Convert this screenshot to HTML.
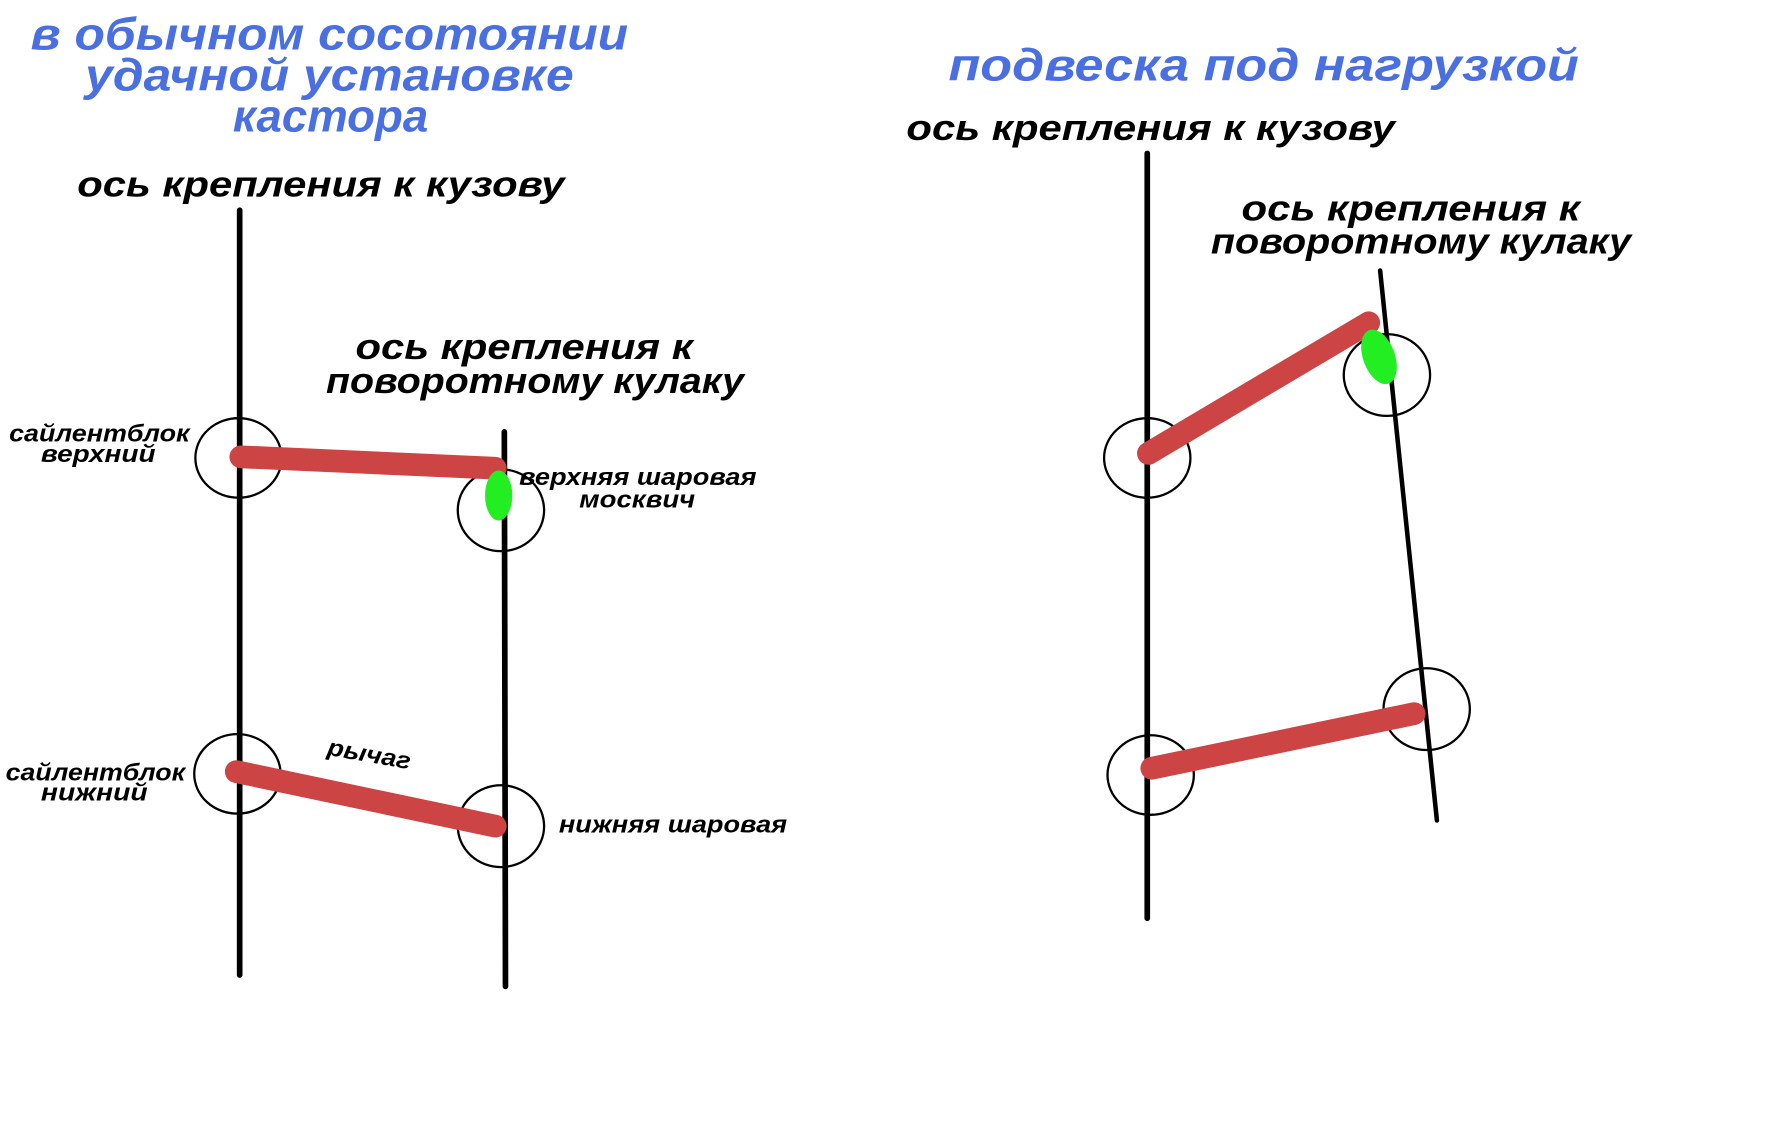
<!DOCTYPE html>
<html><head><meta charset="utf-8"><style>html,body{margin:0;padding:0;background:#fff}svg{display:block}</style></head>
<body>
<svg width="1772" height="1133" viewBox="0 0 1560 997" preserveAspectRatio="none" xmlns="http://www.w3.org/2000/svg">
<rect width="1560" height="997" fill="#fff"/>
<g font-family="Liberation Sans, sans-serif" font-weight="bold" font-style="italic" dominant-baseline="central">
<g fill="#4a6fe0" font-size="40">
<text x="27" y="30" textLength="526" lengthAdjust="spacingAndGlyphs">в обычном сосотоянии</text>
<text x="75" y="66" textLength="430" lengthAdjust="spacingAndGlyphs">удачной установке</text>
<text x="205" y="102" textLength="172" lengthAdjust="spacingAndGlyphs">кастора</text>
<text x="835" y="57" textLength="555" lengthAdjust="spacingAndGlyphs">подвеска под нагрузкой</text>
</g>
<g fill="#000" font-size="32">
<text x="68" y="162" textLength="429" lengthAdjust="spacingAndGlyphs">ось крепления к кузову</text>
<text x="313" y="305" textLength="297" lengthAdjust="spacingAndGlyphs">ось крепления к</text>
<text x="287" y="335" textLength="368" lengthAdjust="spacingAndGlyphs">поворотному кулаку</text>
<text x="798" y="112" textLength="430" lengthAdjust="spacingAndGlyphs">ось крепления к кузову</text>
<text x="1093" y="183" textLength="298" lengthAdjust="spacingAndGlyphs">ось крепления к</text>
<text x="1066" y="212" textLength="370" lengthAdjust="spacingAndGlyphs">поворотному кулаку</text>
</g>
<g fill="#000" font-size="21">
<text x="8" y="382" textLength="159" lengthAdjust="spacingAndGlyphs">сайлентблок</text>
<text x="36" y="400" textLength="101" lengthAdjust="spacingAndGlyphs">верхний</text>
<text x="457" y="420" textLength="209" lengthAdjust="spacingAndGlyphs">верхняя шаровая</text>
<text x="510" y="440" textLength="102" lengthAdjust="spacingAndGlyphs">москвич</text>
<text x="288" y="664" textLength="74" lengthAdjust="spacingAndGlyphs" transform="rotate(10 325 664)">рычаг</text>
<text x="5" y="680" textLength="158" lengthAdjust="spacingAndGlyphs">сайлентблок</text>
<text x="36" y="698" textLength="94" lengthAdjust="spacingAndGlyphs">нижний</text>
<text x="492" y="726" textLength="201" lengthAdjust="spacingAndGlyphs">нижняя шаровая</text>
</g>
</g>
<g stroke="#000" stroke-width="5" fill="none" stroke-linecap="round">
<line x1="211" y1="185" x2="211" y2="858"/>
<line x1="444" y1="380" x2="445" y2="868"/>
<line x1="1010" y1="135" x2="1010" y2="808"/>
<line x1="1215" y1="238" x2="1265" y2="722" stroke-width="4"/>
</g>
<g stroke="#000" stroke-width="2" fill="none">
<ellipse cx="210" cy="403" rx="38" ry="35"/>
<ellipse cx="441" cy="449" rx="38" ry="36"/>
<ellipse cx="209" cy="681" rx="38" ry="35"/>
<ellipse cx="441" cy="727" rx="38" ry="36"/>
<ellipse cx="1010" cy="403" rx="38" ry="35"/>
<ellipse cx="1221" cy="330" rx="38" ry="36"/>
<ellipse cx="1013" cy="682" rx="38" ry="35"/>
<ellipse cx="1256" cy="624" rx="38" ry="36"/>
</g>
<g stroke="#cc4444" stroke-width="20" stroke-linecap="round">
<line x1="212" y1="402" x2="436" y2="412"/>
<line x1="208" y1="679" x2="436" y2="727"/>
<line x1="1011" y1="399" x2="1205" y2="284"/>
<line x1="1014" y1="676" x2="1245" y2="628"/>
</g>
<g fill="#22ee22">
<ellipse cx="439" cy="436" rx="12" ry="22"/>
<ellipse cx="1214" cy="314" rx="14" ry="25" transform="rotate(-20 1214 314)"/>
</g>
</svg>
</body></html>
